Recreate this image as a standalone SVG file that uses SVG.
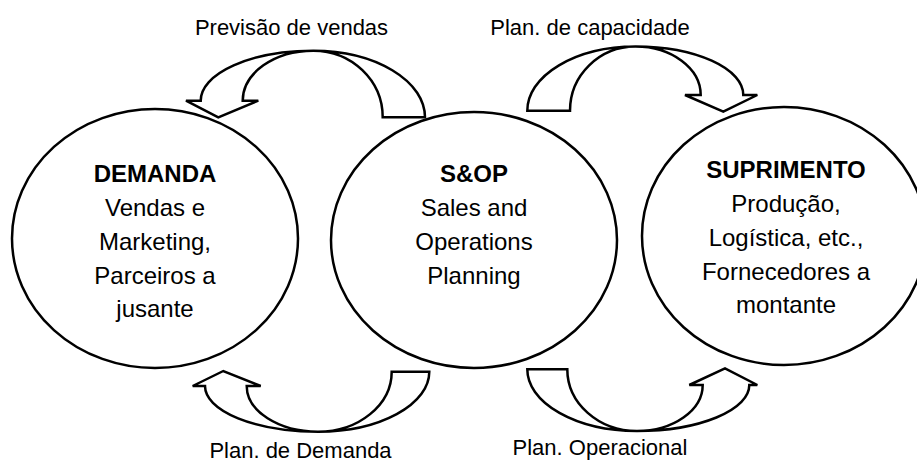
<svg xmlns="http://www.w3.org/2000/svg" width="917" height="463" viewBox="0 0 917 463">
<style>
.node ellipse{fill:#fff;stroke:#000;stroke-width:2.5}
.arr path{fill:#fff;stroke:#000;stroke-width:2.5;stroke-linejoin:miter}
text{font-family:"Liberation Sans",Arial,sans-serif;fill:#000;text-anchor:middle}
.t{font-size:24px}
.b{font-weight:bold}
.lbl{font-size:22px}
</style>
<rect width="917" height="463" fill="#fff"/>
<g id="demanda" class="node">
<ellipse cx="155" cy="238.5" rx="143" ry="129.5"/>
<text class="t b" x="155" y="182">DEMANDA</text>
<text class="t" x="155" y="216">Vendas e</text>
<text class="t" x="155" y="250">Marketing,</text>
<text class="t" x="155" y="284">Parceiros a</text>
<text class="t" x="155" y="317">jusante</text>
</g>
<g id="sop" class="node">
<ellipse cx="474" cy="240" rx="143" ry="128"/>
<text class="t b" x="474" y="182">S&amp;OP</text>
<text class="t" x="474" y="216">Sales and</text>
<text class="t" x="474" y="250">Operations</text>
<text class="t" x="474" y="284">Planning</text>
</g>
<g id="suprimento" class="node">
<ellipse cx="784" cy="236" rx="142" ry="129"/>
<text class="t b" x="786" y="178">SUPRIMENTO</text>
<text class="t" x="786" y="212">Produção,</text>
<text class="t" x="786" y="246">Logística, etc.,</text>
<text class="t" x="786" y="280">Fornecedores a</text>
<text class="t" x="786" y="313">montante</text>
</g>
<g id="connectors" class="arr">
<path d="M425,117.3 A111.7,66.6 0 0 0 313.3,50.7 A112.6,50 0 0 0 200.7,100.7 L186,100.7 L218.3,117.3 L258.3,100.7 L242.7,100.7 A70.6,50 0 0 1 313.3,50.7 A69.4,66.6 0 0 1 382.7,117.3 Z"/>
<path d="M527.3,110.7 A108.2,64.2 0 0 1 635.5,46.5 A107.8,48.5 0 0 1 743.3,95 L757.3,95 L723.3,111.7 L685,95 L700.7,95 A65.2,48.5 0 0 0 635.5,46.5 A65.5,64.2 0 0 0 570,110.7 Z"/>
<path d="M429.3,371.7 A111.3,60 0 0 1 318,431.7 A113,45.7 0 0 1 205,386 L192.7,386 L223.3,371 L260.7,386 L246.7,386 A71.3,45.7 0 0 0 318,431.7 A73.7,60 0 0 0 391.7,371.7 Z"/>
<path d="M527.3,369.3 A109.7,61.7 0 0 0 637,431 A112.3,46 0 0 0 749.3,385 L757.3,385 L725,368.3 L689.3,385 L702.7,385 A65.7,46 0 0 1 637,431 A69.7,61.7 0 0 1 567.3,369.3 Z"/>
</g>
<g id="labels">
<text class="lbl" x="291.5" y="35">Previsão de vendas</text>
<text class="lbl" x="590" y="35">Plan. de capacidade</text>
<text class="lbl" x="300.5" y="458">Plan. de Demanda</text>
<text class="lbl" x="600" y="455">Plan. Operacional</text>
</g>
</svg>
